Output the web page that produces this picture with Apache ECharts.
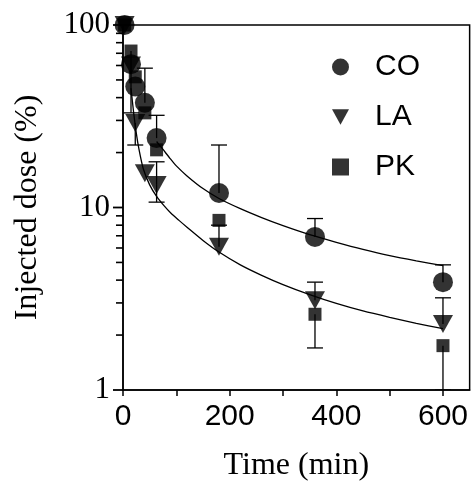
<!DOCTYPE html>
<html>
<head>
<meta charset="utf-8">
<script src="https://cdn.jsdelivr.net/npm/echarts@6/dist/echarts.min.js"></script>
<style>
html,body{margin:0;padding:0;background:#fff;}
#chart{width:471px;height:489px;}
</style>
</head>
<body>
<div id="chart"></div>
<script>
// ---- data ----
const seriesNames = ['CO', 'LA', 'PK'];
const times = [3, 15, 23, 41, 63, 180, 360, 600];
const coValues = [100, 61, 46, 37.5, 24, 12, 6.9, 3.9];
const laValues = [100, 60, 29, 15.4, 13.3, 6.1, 3.1, 2.3];
const pkValues = [100, 72, 52, 33, 20.7, 8.5, 2.6, 1.75];
const coErrLow  = [null, null, null, null, null, null, null, null];
const coErrHigh = [null, null, null, 58, 32, 22, 8.7, 4.85];
const laErrLow  = [null, null, 22, null, 10.7, null, null, null];
const laErrHigh = [null, null, null, null, 17.8, 8.0, 3.9, 3.2];
const pkErrLow  = [null, 33, null, null, null, null, 1.7, 1.0];
const pkErrHigh = [null, null, null, null, null, null, null, null];
// fitted curves
const coFitTimes = [63, 75, 88, 100, 120, 150, 180, 220, 260, 300, 350, 400, 450, 500, 550, 600];
const coFitValues = [23, 20.8, 18.6, 16.9, 14.9, 12.7, 11.2, 9.85, 8.8, 7.95, 7.1, 6.45, 5.9, 5.45, 5.1, 4.8];
const laFitTimes = [15, 20, 25, 30, 38, 50, 63, 76, 90, 105, 120, 150, 180, 220, 260, 300, 350, 400, 450, 500, 550, 600];
const laFitValues = [45, 33, 25.5, 20.8, 16.3, 13.3, 11.5, 10.3, 9.3, 8.5, 7.8, 6.6, 5.7, 4.85, 4.25, 3.78, 3.33, 2.98, 2.71, 2.5, 2.32, 2.17];
const xTickValues = [0, 100, 200, 300, 400, 500, 600];
const xLabelValues = [0, 200, 400, 600];
const yMajorTickValues = [1, 10, 100];
const yMinorTickValues = [2, 3, 4, 5, 6, 7, 8, 9, 20, 30, 40, 50, 60, 70, 80, 90];

const chart = echarts.init(document.getElementById('chart'), null, {renderer: 'canvas'});

function pairs(xs, ys) { return xs.map((x, i) => [x, ys[i]]); }
function errData(vals, lows, highs) {
  return times.map((t, i) => [t, vals[i], lows[i] == null ? NaN : lows[i], highs[i] == null ? NaN : highs[i]]);
}
const capHalf = 8;
function errRender(params, api) {
  const x = api.value(0), v = api.value(1), lo = api.value(2), hi = api.value(3);
  const p = api.coord([x, v]);
  const children = [];
  const style = {stroke: '#000', lineWidth: 1.3, fill: null};
  [lo, hi].forEach(function (e) {
    if (e == null || isNaN(e)) return;
    const q = api.coord([x, e]);
    children.push({type: 'line', shape: {x1: p[0], y1: p[1], x2: q[0], y2: q[1]}, style: style});
    children.push({type: 'line', shape: {x1: q[0] - capHalf, y1: q[1], x2: q[0] + capHalf, y2: q[1]}, style: style});
  });
  return {type: 'group', children: children};
}
function errSeries(vals, lows, highs) {
  return {
    type: 'custom', renderItem: errRender, data: errData(vals, lows, highs),
    encode: {x: 0, y: 1}, clip: true, silent: true, z: 2
  };
}
const curveStyle = {color: '#000', width: 1.3};

const option = {
  animation: false,
  backgroundColor: '#fff',
  grid: {left: 123, right: 1, top: 25, bottom: 99, show: true, borderColor: '#000', borderWidth: 1.5, backgroundColor: 'transparent'},
  legend: {
    data: [
      {name: 'CO', icon: 'circle'},
      {name: 'LA', icon: 'path://M0,0 L20,0 L10,18 Z'},
      {name: 'PK', icon: 'rect'}
    ],
    orient: 'vertical', left: 327, top: 47,
    itemWidth: 17, itemHeight: 17, itemGap: 20,
    textStyle: {fontFamily: 'Liberation Sans', fontSize: 30, color: '#000', padding: [0, 0, 0, 21]},
    selectedMode: false
  },
  xAxis: {
    type: 'value', min: 0, max: 650,
    axisLine: {lineStyle: {color: '#000', width: 1.5}},
    axisTick: {customValues: xTickValues, length: 6, lineStyle: {color: '#000', width: 1.5}},
    axisLabel: {customValues: xLabelValues, fontFamily: 'Liberation Sans', fontSize: 30, color: '#000', margin: 12},
    splitLine: {show: false},
    name: 'Time (min)', nameLocation: 'middle', nameGap: 60,
    nameTextStyle: {fontFamily: 'Liberation Serif', fontSize: 32, color: '#000'}
  },
  yAxis: {
    type: 'log', logBase: 10, min: 1, max: 100,
    axisLine: {show: true, lineStyle: {color: '#000', width: 1.5}},
    axisTick: {show: false},
    axisLabel: {fontFamily: 'Liberation Serif', fontSize: 31, color: '#000', margin: 13},
    splitLine: {show: false}, minorTick: {show: false},
    name: 'Injected dose (%)', nameLocation: 'middle', nameGap: 79,
    nameTextStyle: {fontFamily: 'Liberation Serif', fontSize: 32, color: '#000'}
  },
  series: [
    {type: 'line', data: pairs(coFitTimes, coFitValues), smooth: 0.25, showSymbol: false, lineStyle: curveStyle, silent: true, z: 1},
    {type: 'line', data: pairs(laFitTimes, laFitValues), smooth: 0.25, showSymbol: false, lineStyle: curveStyle, silent: true, z: 1},
    errSeries(coValues, coErrLow, coErrHigh),
    errSeries(laValues, laErrLow, laErrHigh),
    errSeries(pkValues, pkErrLow, pkErrHigh),
    {name: 'PK', type: 'scatter', data: pairs(times, pkValues), symbol: 'rect', symbolSize: 13, itemStyle: {color: '#000'}, z: 3},
    {name: 'LA', type: 'scatter', data: pairs(times, laValues), symbol: 'triangle', symbolRotate: 180, symbolSize: [20, 18], itemStyle: {color: '#000'}, z: 4},
    {name: 'CO', type: 'scatter', data: pairs(times, coValues), symbol: 'circle', symbolSize: 20, itemStyle: {color: '#000'}, z: 5}
  ]
};
chart.setOption(option);

// y-axis tick marks (major and log minor), positioned through the log axis scale
const axisX = chart.convertToPixel({xAxisIndex: 0}, 0);
const tickGraphics = [];
yMajorTickValues.forEach(function (v) {
  const y = chart.convertToPixel({yAxisIndex: 0}, v);
  tickGraphics.push({type: 'line', silent: true, z: 100, shape: {x1: axisX - 10, y1: y, x2: axisX, y2: y}, style: {stroke: '#000', lineWidth: 1.8}});
});
yMinorTickValues.forEach(function (v) {
  const y = chart.convertToPixel({yAxisIndex: 0}, v);
  tickGraphics.push({type: 'line', silent: true, z: 100, shape: {x1: axisX - 7, y1: y, x2: axisX, y2: y}, style: {stroke: '#000', lineWidth: 1.6}});
});
chart.setOption({graphic: {elements: tickGraphics}});
</script>
</body>
</html>
